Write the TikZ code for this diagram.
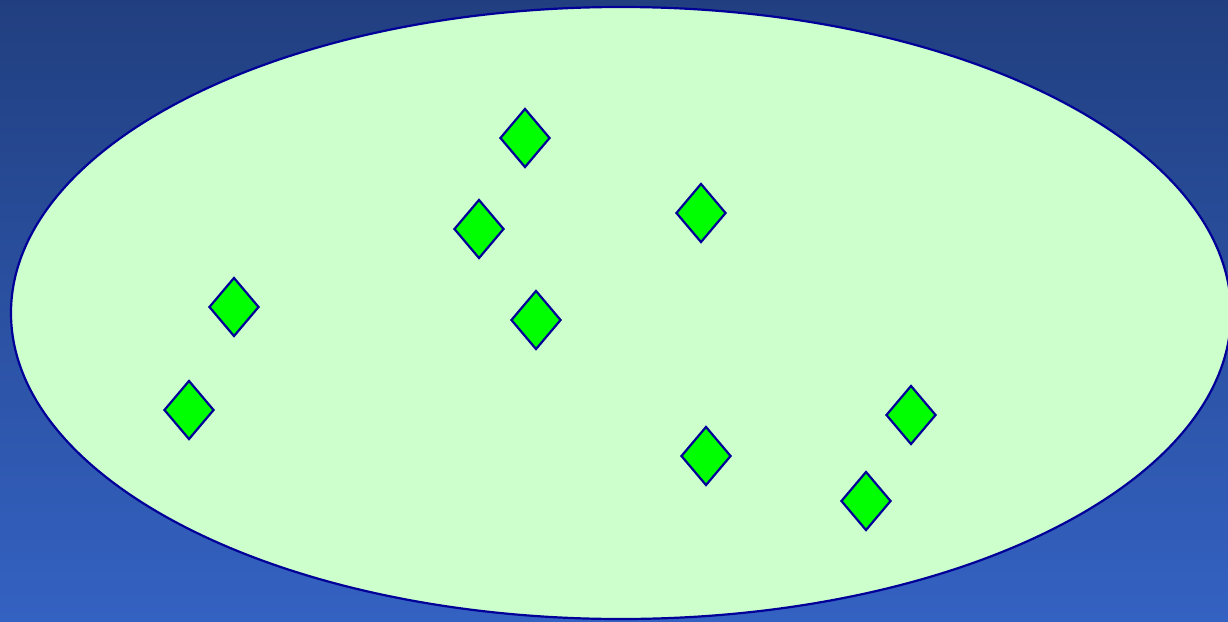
\documentclass[tikz,border=0pt]{standalone}
\usetikzlibrary{shapes.geometric}
\definecolor{bgtop}{HTML}{213F80}
\definecolor{bgbot}{HTML}{3462C2}
\definecolor{pale}{HTML}{CCFFCC}
\definecolor{edge}{HTML}{000099}
\definecolor{gem}{HTML}{00FF00}
\tikzset{
  gembox/.style={shape=diamond, draw=edge, fill=gem, line width=2.2pt, inner sep=0pt,
    minimum width=50pt, minimum height=59pt}
}
\begin{document}
\begin{tikzpicture}[x=1pt,y=-1pt]
\useasboundingbox (0,0) rectangle (1228,621);
\clip (0,0) rectangle (1228,621);
\shade[top color=bgtop, bottom color=bgbot] (0,0) rectangle (1228,621);
\draw[draw=edge, fill=pale, line width=2.2pt] (621,313) ellipse [x radius=610, y radius=306];
\node[gembox] (d1) at (525,138) {};
\node[gembox] (d2) at (479,229) {};
\node[gembox] (d3) at (701,213) {};
\node[gembox] (d4) at (234,307) {};
\node[gembox] (d5) at (536,320) {};
\node[gembox] (d6) at (189,410) {};
\node[gembox] (d7) at (706,456) {};
\node[gembox] (d8) at (911,415) {};
\node[gembox] (d9) at (866,501) {};
\end{tikzpicture}
\end{document}
